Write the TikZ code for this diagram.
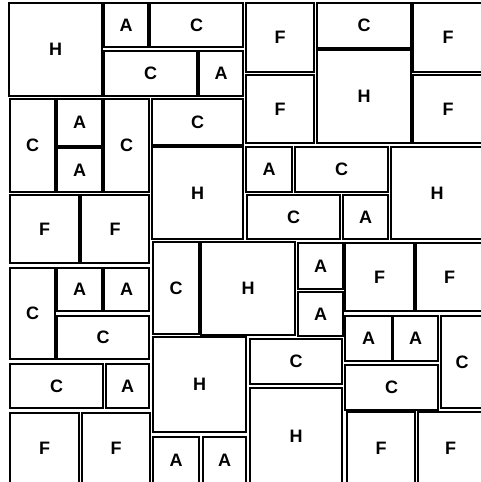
\documentclass[tikz,border=0pt]{standalone}
\usepackage{fontspec}
\setmainfont{Liberation Sans}
\usetikzlibrary{fit}

\begin{document}
\begin{tikzpicture}[x=1pt,y=-1pt,
          tile/.style={draw=black,fill=white,line width=2pt,inner sep=0pt,
                       label={[font=\bfseries\fontsize{18}{20}\selectfont]center:#1}}]
  \useasboundingbox (0,0) rectangle (481,482);
  \clip (0,0) rectangle (481,482);
  % top band
  \node[tile=H,fit={(9,3) (102,96)}](h1){};
  \node[tile=A,fit={(104,3) (148,47)}](a1){};
  \node[tile=C,fit={(150,3) (243,47)}](c1){};
  \node[tile=C,fit={(104,51) (197,96)}](c2){};
  \node[tile=A,fit={(199,51) (243,96)}](a2){};
  \node[tile=F,fit={(246,3) (314,72)}](f1){};
  \node[tile=F,fit={(246,75) (314,143)}](f2){};
  \node[tile=C,fit={(317,3) (411,48)}](c3){};
  \node[tile=H,fit={(317,50) (411,143)}](h2){};
  \node[tile=F,fit={(413,3) (483,72)}](f3){};
  \node[tile=F,fit={(413,75) (483,143)}](f4){};
  % middle band
  \node[tile=C,fit={(10,99) (55,192)}](c4){};
  \node[tile=A,fit={(57,99) (102,146)}](a3){};
  \node[tile=A,fit={(57,148) (102,192)}](a4){};
  \node[tile=C,fit={(104,99) (149,192)}](c5){};
  \node[tile=C,fit={(152,99) (243,145)}](c6){};
  \node[tile=H,fit={(152,147) (243,239)}](h3){};
  \node[tile=F,fit={(10,195) (79,263)}](f5){};
  \node[tile=F,fit={(81,195) (149,263)}](f6){};
  \node[tile=A,fit={(246,147) (292,192)}](a5){};
  \node[tile=C,fit={(295,147) (388,192)}](c7){};
  \node[tile=C,fit={(247,195) (340,239)}](c8){};
  \node[tile=A,fit={(343,195) (388,239)}](a6){};
  \node[tile=H,fit={(391,147) (483,239)}](h4){};
  % lower left
  \node[tile=C,fit={(10,268) (55,359)}](c9){};
  \node[tile=A,fit={(57,268) (102,311)}](a7){};
  \node[tile=A,fit={(104,268) (149,311)}](a8){};
  \node[tile=C,fit={(57,316) (149,359)}](c10){};
  \node[tile=C,fit={(10,364) (103,408)}](c11){};
  \node[tile=A,fit={(106,364) (149,408)}](a9){};
  \node[tile=F,fit={(10,413) (79,484)}](f7){};
  \node[tile=F,fit={(82,413) (150,484)}](f8){};
  % lower middle
  \node[tile=C,fit={(153,242) (199,334)}](c12){};
  \node[tile=H,fit={(201,242) (295,335)}](h5){};
  \node[tile=A,fit={(298,243) (343,289)}](a10){};
  \node[tile=A,fit={(298,292) (343,336)}](a11){};
  \node[tile=H,fit={(153,337) (246,432)}](h6){};
  \node[tile=A,fit={(153,437) (199,484)}](a12){};
  \node[tile=A,fit={(203,437) (246,484)}](a13){};
  \node[tile=C,fit={(250,339) (342,384)}](c13){};
  \node[tile=H,fit={(250,388) (342,484)}](h7){};
  % lower right
  \node[tile=F,fit={(345,243) (414,311)}](f9){};
  \node[tile=F,fit={(416,243) (483,311)}](f10){};
  \node[tile=A,fit={(345,316) (392,361)}](a14){};
  \node[tile=A,fit={(393,316) (438,361)}](a15){};
  \node[tile=C,fit={(441,316) (483,408)}](c14){};
  \node[tile=C,fit={(345,365) (438,410)}](c15){};
  \node[tile=F,fit={(347,412) (415,484)}](f11){};
  \node[tile=F,fit={(418,412) (483,484)}](f12){};
\end{tikzpicture}
\end{document}
